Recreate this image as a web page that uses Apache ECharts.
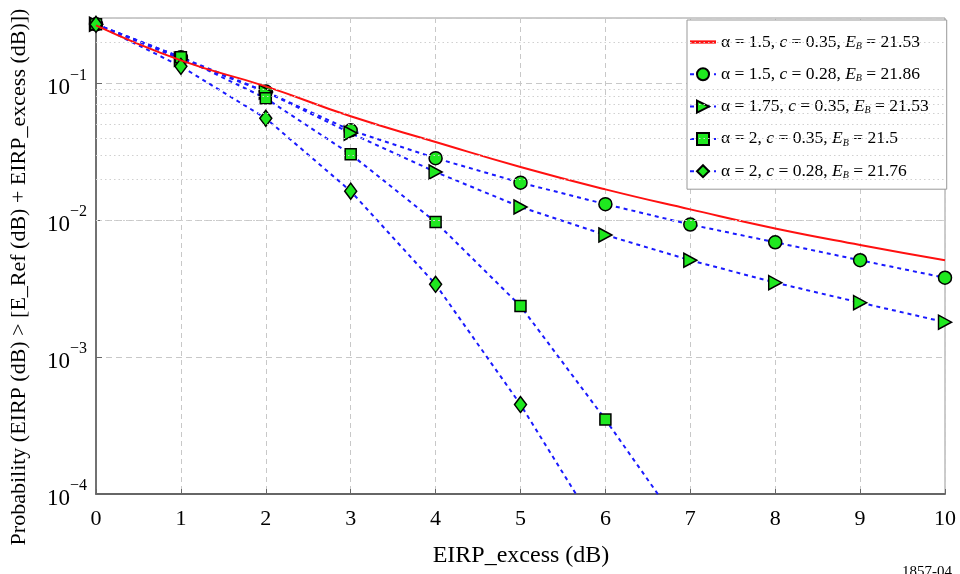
<!DOCTYPE html>
<html><head><meta charset="utf-8">
<script src="https://cdn.jsdelivr.net/npm/echarts@6/dist/echarts.min.js"></script>
<style>html,body{margin:0;padding:0;background:#fff}#c{width:960px;height:574px}</style>
</head><body><div id="c"></div>
<script>
const xValues = [0, 1, 2, 3, 4, 5, 6, 7, 8, 9, 10];
const redCurve = [0.265, 0.147, 0.095, 0.0574, 0.0373, 0.0245, 0.0168, 0.0120, 0.0087, 0.0066, 0.0051];
const circleSeries = [0.27, 0.155, 0.087, 0.0454, 0.0284, 0.0188, 0.0131, 0.0093, 0.0069, 0.0051, 0.0038];
const triangleSeries = [0.27, 0.15, 0.0865, 0.0432, 0.0225, 0.0125, 0.0078, 0.0051, 0.0035, 0.0025, 0.0018];
const squareSeries = [0.27, 0.155, 0.0777, 0.0303, 0.0097, 0.00236, 0.00035, 0.000046];
const diamondSeries = [0.27, 0.133, 0.0555, 0.0163, 0.0034, 0.00045, 0.000045];
const seriesNames = ['s1', 's2', 's3', 's4', 's5'];
const legendLabels = {
  s1: 'α = 1.5, {i|c} = 0.35, {i|E}{sub|B} = 21.53',
  s2: 'α = 1.5, {i|c} = 0.28, {i|E}{sub|B} = 21.86',
  s3: 'α = 1.75, {i|c} = 0.35, {i|E}{sub|B} = 21.53',
  s4: 'α = 2, {i|c} = 0.35, {i|E}{sub|B} = 21.5',
  s5: 'α = 2, {i|c} = 0.28, {i|E}{sub|B} = 21.76'
};
const yMin = 1e-4, yMax = 0.3;
const decades = [-4, -3, -2, -1];
const minorMultipliers = [2, 3, 4, 5, 6, 7, 8, 9];
const xAxisTitle = 'EIRP_excess (dB)';
const yAxisTitle = 'Probability (EIRP (dB) > [E_Ref (dB) + EIRP_excess (dB)])';
const figNote = '1857-04';

const FONT = '"Liberation Serif", "Times New Roman", serif';
const minorVals = [];
decades.forEach(d => minorMultipliers.forEach(m => { const v = m * Math.pow(10, d); if (v < yMax) minorVals.push(v); }));

function pts(arr) { return arr.map((v, i) => [xValues[i], v]); }
const GREEN = '#1fe81f', BLUE = '#1a1aff', RED = '#ff1010';
const mk = (name, data, symbol, size) => ({
  name, type: 'line', data: pts(data), symbol, symbolSize: size,
  showAllSymbol: true, clip: true,
  lineStyle: { color: BLUE, width: 2, type: [4, 4] },
  itemStyle: { color: GREEN, borderColor: '#000', borderWidth: 1.5 },
  z: 3
});

const chart = echarts.init(document.getElementById('c'), null, { renderer: 'canvas' });
chart.setOption({
  animation: false,
  backgroundColor: '#fff',
  grid: { left: 96, right: 15, top: 18, bottom: 80, show: true, borderColor: '#999', borderWidth: 1 },
  xAxis: {
    type: 'value', min: 0, max: 10, interval: 1,
    axisLine: { lineStyle: { color: '#666', width: 2 } },
    axisTick: { inside: true, length: 5, lineStyle: { color: '#666' } },
    axisLabel: { color: '#000', fontFamily: FONT, fontSize: 22, margin: 14 },
    splitLine: { show: true, lineStyle: { color: '#c8c8c8', type: [5, 4], width: 1 } }
  },
  yAxis: {
    type: 'log', logBase: 10, min: yMin, max: yMax,
    axisLine: { show: true, lineStyle: { color: '#555', width: 1.5 } },
    axisTick: { show: true, inside: true, length: 6, lineStyle: { color: '#666' } },
    axisLabel: {
      margin: 9,
      formatter: v => {
        const e = Math.log10(v), r = Math.round(e);
        if (Math.abs(e - r) > 1e-6) return '';
        return '{b|10}{s|−' + Math.abs(r) + '}';
      },
      rich: {
        b: { fontFamily: FONT, fontSize: 23, color: '#000', lineHeight: 32, verticalAlign: 'bottom' },
        s: { fontFamily: FONT, fontSize: 16, color: '#000', lineHeight: 32, verticalAlign: 'top' }
      }
    },
    splitLine: { show: true, lineStyle: { color: '#c8c8c8', type: [6, 4], width: 1 } }
  },
  legend: {
    data: [{ name: 's1', icon: 'path://M0,0H24V3H0Z', itemStyle: { color: RED, borderWidth: 0 } }, 's2', 's3', 's4', 's5'],
    orient: 'vertical', left: 687, top: 20,
    backgroundColor: '#fff', borderColor: '#999', borderWidth: 1,
    padding: [13, 18, 9, 2], itemGap: 14.3, itemWidth: 26, itemHeight: 15,
    formatter: n => legendLabels[n],
    textStyle: {
      fontFamily: FONT, fontSize: 17.5, color: '#000',
      rich: {
        i: { fontFamily: FONT, fontSize: 17.5, fontStyle: 'italic', color: '#000' },
        sub: { fontFamily: FONT, fontSize: 10, fontStyle: 'italic', color: '#000', verticalAlign: 'bottom', padding: [6, 0, 0, 0] }
      }
    }
  },
  graphic: [
    { type: 'text', x: 19, y: 277, rotation: Math.PI / 2,
      style: { text: yAxisTitle, fontFamily: FONT, fontSize: 22, fill: '#000', align: 'center', verticalAlign: 'middle' } },
    { type: 'text', x: 521, y: 556,
      style: { text: xAxisTitle, fontFamily: FONT, fontSize: 24, fill: '#000', align: 'center', verticalAlign: 'middle' } },
    { type: 'text', x: 952, y: 565,
      style: { text: figNote, fontFamily: FONT, fontSize: 15, fill: '#000', align: 'right', verticalAlign: 'top' } }
  ],
  series: [
    { name: 'minor', type: 'line', data: [], silent: true, z: 1,
      markLine: { silent: true, symbol: 'none', label: { show: false }, animation: false,
        lineStyle: { color: '#d0d0d0', type: [1.5, 3], width: 1 },
        data: minorVals.map(v => ({ yAxis: v })) } },
    { name: 's1', type: 'line', data: pts(redCurve), smooth: true, symbol: 'none',
      lineStyle: { color: RED, width: 2 }, itemStyle: { color: RED }, z: 4 },
    mk('s2', circleSeries, 'circle', 13),
    mk('s3', triangleSeries, 'path://M0,0L12,6.5L0,13Z', [13, 14]),
    mk('s4', squareSeries, 'rect', 11),
    mk('s5', diamondSeries, 'diamond', [12, 16])
  ]
});
</script></body></html>
